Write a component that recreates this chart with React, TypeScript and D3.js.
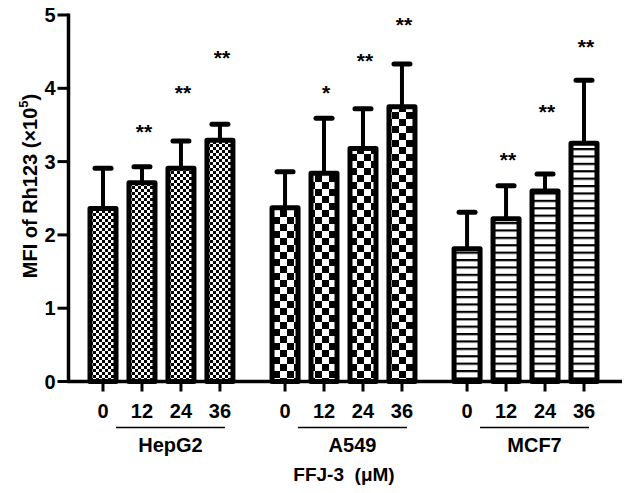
import React from "react"
import * as d3 from "d3"

// doses and cell lines
const doses = ["0", "12", "24", "36"]
const cellLines = ["HepG2", "A549", "MCF7"]

// MFI of Rh123 (x10^5), mean and SD
const hepg2Mean = [2.36, 2.71, 2.91, 3.29]
const hepg2Sd = [0.55, 0.22, 0.37, 0.22]
const a549Mean = [2.37, 2.84, 3.18, 3.75]
const a549Sd = [0.49, 0.75, 0.54, 0.58]
const mcf7Mean = [1.81, 2.22, 2.6, 3.25]
const mcf7Sd = [0.5, 0.45, 0.23, 0.86]

// significance marks and where they sit (data units)
const hepg2Sig = ["", "**", "**", "**"]
const a549Sig = ["", "*", "**", "**"]
const mcf7Sig = ["", "**", "**", "**"]
const hepg2SigY = [0, 3.47, 4.0, 4.48]
const a549SigY = [0, 4.0, 4.44, 4.93]
const mcf7SigY = [0, 3.09, 3.74, 4.63]

const yTicks = [0, 1, 2, 3, 4, 5]

const W = 630,
  H = 493
const groupGap = 0.67 // extra slots between cell lines
const font = "'Liberation Sans', Arial, sans-serif"

export default function App() {
  const groups = [
    { name: cellLines[0], mean: hepg2Mean, sd: hepg2Sd, sig: hepg2Sig, sigY: hepg2SigY, fill: "url(#fine)" },
    { name: cellLines[1], mean: a549Mean, sd: a549Sd, sig: a549Sig, sigY: a549SigY, fill: "url(#coarse)" },
    { name: cellLines[2], mean: mcf7Mean, sd: mcf7Sd, sig: mcf7Sig, sigY: mcf7SigY, fill: "url(#stripes)" },
  ]

  const x = d3
    .scaleLinear()
    .domain([0, 2 * (doses.length + groupGap) + doses.length - 1])
    .range([103, 584])
  const y = d3.scaleLinear().domain([0, 5]).range([381.5, 15])
  const pos = (g: number, i: number) => x(g * (doses.length + groupGap) + i)

  const barW = 26
  const axisX = 68.5
  const baseY = y(0)

  return (
    <svg width={W} height={H} style={{ position: "absolute", left: 0, top: 0 }} fontFamily={font}>
      <defs>
        <pattern id="fine" width={6} height={6} patternUnits="userSpaceOnUse">
          <rect width={6} height={6} fill="#fff" />
          <rect width={3} height={3} fill="#000" />
          <rect x={3} y={3} width={3} height={3} fill="#000" />
        </pattern>
        <pattern id="coarse" width={14} height={14} patternUnits="userSpaceOnUse">
          <rect width={14} height={14} fill="#fff" />
          <rect width={7} height={7} fill="#000" />
          <rect x={7} y={7} width={7} height={7} fill="#000" />
        </pattern>
        <pattern id="stripes" width={10} height={7.4} patternUnits="userSpaceOnUse">
          <rect width={10} height={7.4} fill="#fff" />
          <rect y={0} width={10} height={2.2} fill="#000" />
        </pattern>
      </defs>

      {/* bars, error bars, stars */}
      {groups.map((g, gi) =>
        g.mean.map((m, i) => {
          const cx = pos(gi, i)
          const top = y(m)
          const errTop = y(m + g.sd[i])
          return (
            <g key={g.name + i}>
              <line x1={cx} x2={cx} y1={top} y2={errTop} stroke="#000" strokeWidth={4} />
              <line x1={cx - 8} x2={cx + 8} y1={errTop} y2={errTop} stroke="#000" strokeWidth={5} strokeLinecap="round" />
              <rect
                x={cx - barW / 2}
                y={top}
                width={barW}
                height={baseY - top}
                fill={g.fill}
                stroke="#000"
                strokeWidth={5}
                strokeLinejoin="round"
              />
              {g.sig[i] && (
                <text
                  x={cx + 2}
                  y={y(g.sigY[i]) + 12}
                  textAnchor="middle"
                  fontSize={21}
                  fontWeight="bold"
                >
                  {g.sig[i]}
                </text>
              )}
            </g>
          )
        })
      )}

      {/* y axis */}
      <line x1={axisX} x2={axisX} y1={y(5) - 1.5} y2={baseY + 1.5} stroke="#000" strokeWidth={3.5} />
      {yTicks.map((t) => (
        <g key={t}>
          <line x1={axisX - 11} x2={axisX} y1={y(t)} y2={y(t)} stroke="#000" strokeWidth={3} />
          <text x={axisX - 13} y={y(t) + 7} textAnchor="end" fontSize={20} fontWeight="bold">
            {t}
          </text>
        </g>
      ))}
      <text
        transform={`translate(32,${186}) rotate(-90)`}
        textAnchor="middle"
        dominantBaseline="middle"
        fontSize={20}
        fontWeight="bold"
      >
        MFI of Rh123 (×10<tspan fontSize={13} dy={-7}>5</tspan>
        <tspan dy={7}>)</tspan>
      </text>

      {/* x axis */}
      <line x1={axisX - 1.5} x2={622} y1={baseY} y2={baseY} stroke="#000" strokeWidth={3.5} />
      {groups.map((g, gi) => (
        <g key={g.name}>
          {doses.map((d, i) => (
            <g key={d}>
              <line x1={pos(gi, i)} x2={pos(gi, i)} y1={baseY} y2={baseY + 10} stroke="#000" strokeWidth={3} />
              <text x={pos(gi, i)} y={418} textAnchor="middle" fontSize={20} fontWeight="bold">
                {d}
              </text>
            </g>
          ))}
          <line x1={pos(gi, 0) + 13} x2={pos(gi, 3) + 5} y1={427.5} y2={427.5} stroke="#000" strokeWidth={1.5} />
          <text
            x={(pos(gi, 0) + 13 + pos(gi, 3) + 5) / 2}
            y={452}
            textAnchor="middle"
            fontSize={20}
            fontWeight="bold"
          >
            {g.name}
          </text>
        </g>
      ))}
      <text x={344} y={481} textAnchor="middle" fontSize={19} fontWeight="bold" style={{ whiteSpace: "pre" }}>
        {"FFJ-3  (μM)"}
      </text>
    </svg>
  )
}
